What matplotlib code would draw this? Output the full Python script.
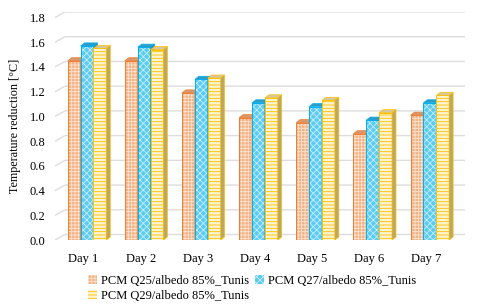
import numpy as np
import matplotlib.pyplot as plt
from matplotlib.patches import Polygon

plt.rcParams['font.family'] = ['Liberation Serif', 'DejaVu Serif']
plt.rcParams['hatch.linewidth'] = 0.6

# data
days = ['Day 1', 'Day 2', 'Day 3', 'Day 4', 'Day 5', 'Day 6', 'Day 7']
q25 = [1.45, 1.45, 1.19, 0.99, 0.95, 0.86, 1.01]
q27 = [1.57, 1.56, 1.30, 1.11, 1.08, 0.97, 1.11]
q29 = [1.55, 1.54, 1.31, 1.15, 1.13, 1.03, 1.17]
labels = ['PCM Q25/albedo 85%_Tunis', 'PCM Q27/albedo 85%_Tunis', 'PCM Q29/albedo 85%_Tunis']
yticks = [0.0, 0.2, 0.4, 0.6, 0.8, 1.0, 1.2, 1.4, 1.6, 1.8]

# face, hatch colour, edge, top, side, hatch
styles = [
    ('#F4B183', '#FBE3D2', '#ED7D31', '#D9966A', '#C9865C', '+++++'),
    ('#5CCBF3', '#C6EEFB', '#00B0F0', '#2E9CC8', '#2A8DB5', 'xxxxx'),
    ('#FFF3D0', '#FFC000', '#FFC000', '#D6C89A', '#BBA866', '-----'),
]

fig = plt.figure(figsize=(4.8, 3.07), dpi=100)
ax = fig.add_axes([55 / 480, 0.218, 410 / 480, 0.743])

x = np.arange(len(days))
w = 0.225
shift = 0.06
dx, dy = 0.07, 0.025      # bar depth offset
gdx, gdy = 0.175, 0.045   # wall offset for gridlines
xmin, xmax = -0.5, len(days) - 0.5 + gdx

for t in yticks:
    ax.plot([xmin, xmin + gdx, xmax], [t, t + gdy, t + gdy], color='#DDDDDD', lw=1, zorder=0)

for k, vals in enumerate([q25, q27, q29]):
    face, hcol, edge, top, side, hatch = styles[k]
    pos = x + shift + (k - 1) * w
    z = 2 + k
    ax.bar(pos, vals, w, color=face, edgecolor=hcol, linewidth=0, hatch=hatch, zorder=z)
    ax.bar(pos, vals, w, fill=False, edgecolor=edge, linewidth=0.7, zorder=z)
    for p, v in zip(pos, vals):
        l, r = p - w / 2, p + w / 2
        ax.add_patch(Polygon([[l, v], [l + dx, v + dy], [r + dx, v + dy], [r, v]],
                             closed=True, facecolor=top, edgecolor=edge, lw=0.5, zorder=z))
        ax.add_patch(Polygon([[r, 0], [r + dx, dy], [r + dx, v + dy], [r, v]],
                             closed=True, facecolor=side, edgecolor=edge, lw=0.5, zorder=z))

ax.set_xlim(xmin, xmax)
ax.set_ylim(0, 1.8 + gdy)
ax.set_xticks(x)
ax.set_xticklabels(days, fontsize=9)
ax.set_yticks(yticks)
ax.set_yticklabels(['%.1f' % t for t in yticks], fontsize=9)
ax.tick_params(length=0)
ax.tick_params(axis='y', pad=7)
ax.tick_params(axis='x', pad=9)
for s in ax.spines.values():
    s.set_visible(False)
ax.set_ylabel('Temperature reduction [°C]', fontsize=8.7, labelpad=6)

# column-major order so rows read Q25, Q27 / Q29
order = [0, 2, 1]
handles = [plt.Rectangle((0, 0), 1, 1, facecolor=styles[i][0], edgecolor=styles[i][1],
                         hatch=styles[i][5], lw=0) for i in order]
fig.legend(handles, [labels[i] for i in order], ncol=2, loc='upper left',
           bbox_to_anchor=(82 / 480, 0.125), frameon=False, fontsize=9,
           handlelength=0.7, handleheight=0.7, handletextpad=0.3,
           columnspacing=0.5, labelspacing=0.25, borderpad=0)

fig.savefig('out.png', dpi=100)
